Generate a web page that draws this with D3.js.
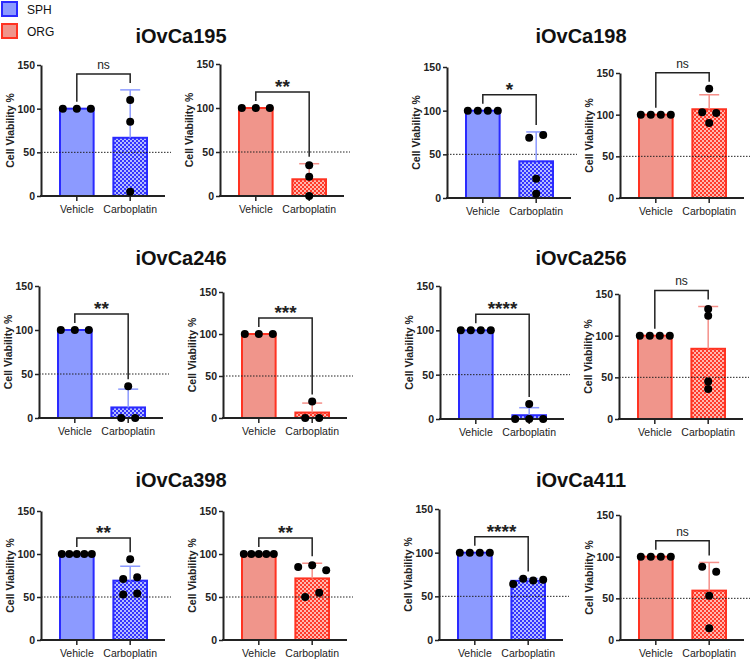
<!DOCTYPE html>
<html>
<head>
<meta charset="utf-8">
<script src="https://cdn.jsdelivr.net/npm/d3@7"></script>
<style>
  body { margin: 0; background: #fff; }
  svg { display: block; font-family: "Liberation Sans", Arial, sans-serif; }
</style>
</head>
<body>
<div id="chart"></div>
<script>
// values (cell viability %, one dot per replicate)
const cellLines = ['iOvCa195', 'iOvCa198', 'iOvCa246', 'iOvCa256', 'iOvCa398', 'iOvCa411'];
const groups = ['Vehicle', 'Carboplatin'];
const yTicks = [0, 50, 100, 150];

const sphVehicle = [[100, 100, 100], [100, 100, 100, 100], [100, 100, 100], [100, 100, 100, 100], [100, 100, 100, 100, 100], [100, 100, 100, 100]];
const sphCarbo = [[110, 85, 5], [69, 72, 22, 5], [36, 0, 0], [17, 0, 0, 0], [94, 71, 73, 53, 54], [64, 70, 68, 69]];
const orgVehicle = [[100, 100, 100], [100, 100, 100, 100], [100, 100, 100], [100, 100, 100, 100], [100, 100, 100, 100, 100], [100, 100, 100, 100]];
const orgCarbo = [[35, 22, 0], [131, 103, 102, 90], [19.5, 0, 0], [132, 124, 45, 36], [85, 87, 81, 50, 55], [53, 88, 82, 14]];
const sphSig = ['ns', '*', '**', '****', '**', '****'];
const orgSig = ['**', 'ns', '***', 'ns', '**', 'ns'];

const width = 750;
const height = 664;

// layout: y-axis x position, top (150) and bottom (0) of each plot, per row
const axisX = [[41, 220, 447, 620], [39, 223, 440, 619], [41, 223, 439, 620]];
const axisTop = [[65, 64, 67, 73], [286, 292, 286, 294], [511, 511, 509, 515]];
const axisBottom = [[196, 196, 198, 198], [418, 418, 419, 419], [640, 640, 640, 640]];

const colors = {
  sph: { fill: '#8c9aff', stroke: '#2a2aff', err: '#8c9aff', dark: '#3434ff', light: '#b4bcff' },
  org: { fill: '#f0958b', stroke: '#ff3322', err: '#f5908a', dark: '#ff3a2a', light: '#ffb8b0' }
};

const svg = d3.select('#chart').append('svg')
  .attr('width', width)
  .attr('height', height);

const defs = svg.append('defs');
function checker(id, dark, light) {
  const p = defs.append('pattern').attr('id', id)
    .attr('patternUnits', 'userSpaceOnUse').attr('width', 4).attr('height', 4);
  p.append('rect').attr('width', 4).attr('height', 4).attr('fill', light);
  p.append('rect').attr('width', 2).attr('height', 2).attr('fill', dark);
  p.append('rect').attr('x', 2).attr('y', 2).attr('width', 2).attr('height', 2).attr('fill', dark);
}
checker('check-sph', colors.sph.dark, colors.sph.light);
checker('check-org', colors.org.dark, colors.org.light);

// legend
const legend = svg.append('g');
[['SPH', colors.sph], ['ORG', colors.org]].forEach(([name, c], i) => {
  legend.append('rect').attr('x', 2).attr('y', 2 + i * 22).attr('width', 15).attr('height', 14)
    .attr('fill', c.fill).attr('stroke', c.stroke).attr('stroke-width', 2);
  legend.append('text').attr('x', 27).attr('y', 14 + i * 22).text(name)
    .style('font-size', '12px').attr('fill', '#111');
});

// spread points of a group sideways when they sit on top of each other
function spread(values, y) {
  const order = values.map((v, i) => i).sort((a, b) => values[a] - values[b]);
  const clusters = [];
  order.forEach(i => {
    const last = clusters[clusters.length - 1];
    if (last && Math.abs(y(values[last[last.length - 1]]) - y(values[i])) < 6) last.push(i);
    else clusters.push([i]);
  });
  const offs = new Array(values.length).fill(0);
  clusters.forEach(c => {
    c.sort((a, b) => a - b);
    const n = c.length;
    if (n < 2) return;
    const step = Math.min(14, 30 / (n - 1));
    c.forEach((idx, k) => { offs[idx] = (k - (n - 1) / 2) * step; });
  });
  return offs;
}

function drawPanel(x0, yT, yB, vehicle, carbo, sig, kind) {
  const c = colors[kind];
  const g = svg.append('g');
  const y = d3.scaleLinear().domain([0, 150]).range([yB, yT]);
  const x = d3.scaleBand().domain(groups).range([x0 + 19, x0 + 106]).paddingInner(0.37).paddingOuter(0);
  const sets = [vehicle, carbo];
  const stats = sets.map(v => ({ mean: d3.mean(v), sd: d3.deviation(v) || 0 }));

  // bars
  g.selectAll('rect.bar').data(groups).join('rect')
    .attr('class', 'bar')
    .attr('x', d => x(d))
    .attr('width', x.bandwidth())
    .attr('y', (d, i) => y(stats[i].mean))
    .attr('height', (d, i) => y(0) - y(stats[i].mean))
    .attr('fill', (d, i) => i === 0 ? c.fill : `url(#check-${kind})`)
    .attr('stroke', c.stroke)
    .attr('stroke-width', 2);

  // 50 % reference line
  g.append('line')
    .attr('x1', x0).attr('x2', x0 + 130)
    .attr('y1', y(50)).attr('y2', y(50))
    .attr('stroke', '#222').attr('stroke-width', 1)
    .attr('stroke-dasharray', '1.5,1.5');

  // error bars (mean + SD)
  groups.forEach((grp, i) => {
    if (stats[i].sd <= 0) return;
    const cx = x(grp) + x.bandwidth() / 2;
    const top = y(stats[i].mean + stats[i].sd);
    g.append('line').attr('x1', cx).attr('x2', cx)
      .attr('y1', y(stats[i].mean)).attr('y2', top)
      .attr('stroke', c.err).attr('stroke-width', 1.5);
    g.append('line').attr('x1', cx - 10).attr('x2', cx + 10)
      .attr('y1', top).attr('y2', top)
      .attr('stroke', c.err).attr('stroke-width', 1.5);
  });

  // axes
  const ya = g.append('g')
    .attr('transform', `translate(${x0},0)`)
    .call(d3.axisLeft(y).tickValues(yTicks).tickSize(4).tickSizeOuter(0).tickPadding(2));
  ya.select('.domain').attr('stroke', '#222').attr('stroke-width', 2);
  ya.selectAll('.tick line').attr('stroke', '#222').attr('stroke-width', 1.5);
  ya.selectAll('.tick text').attr('fill', '#222').style('font-size', '10.5px').style('font-weight', 'bold')
    .style('font-family', '"Liberation Sans", Arial, sans-serif');

  g.append('line').attr('x1', x0 - 1).attr('x2', x0 + 124)
    .attr('y1', yB).attr('y2', yB)
    .attr('stroke', '#222').attr('stroke-width', 2);
  const xa = g.append('g')
    .attr('transform', `translate(0,${yB})`)
    .call(d3.axisBottom(x).tickSize(5).tickSizeOuter(0).tickPadding(5));
  xa.select('.domain').remove();
  xa.selectAll('.tick line').attr('stroke', '#222').attr('stroke-width', 1.5);
  xa.selectAll('.tick text').attr('fill', '#222').style('font-size', '10.5px')
    .style('font-family', '"Liberation Sans", Arial, sans-serif');

  g.append('text')
    .attr('transform', `translate(${x0 - 31},${(yT + yB) / 2}) rotate(-90)`)
    .attr('text-anchor', 'middle').attr('dy', '0.35em')
    .style('font-size', '10.5px').style('font-weight', 'bold').attr('fill', '#222')
    .text('Cell Viability %');

  // replicate dots
  sets.forEach((vals, i) => {
    const cx = x(groups[i]) + x.bandwidth() / 2;
    const offs = spread(vals, y);
    g.selectAll(null).data(vals).join('circle')
      .attr('cx', (d, k) => cx + offs[k])
      .attr('cy', d => y(d))
      .attr('r', 4)
      .attr('fill', '#000');
  });

  // significance bracket
  const tops = sets.map((v, i) => Math.max(stats[i].mean + stats[i].sd, d3.max(v)));
  const yb = y(d3.max(tops)) - 16;
  const c0 = x(groups[0]) + x.bandwidth() / 2;
  const c1 = x(groups[1]) + x.bandwidth() / 2;
  g.append('path')
    .attr('d', `M${c0},${y(tops[0]) - 7}V${yb}H${c1}V${y(tops[1]) - 7}`)
    .attr('fill', 'none').attr('stroke', '#222').attr('stroke-width', 1.5);
  const st = g.append('text')
    .attr('x', (c0 + c1) / 2)
    .attr('text-anchor', 'middle').attr('fill', '#222')
    .text(sig);
  if (sig === 'ns') st.attr('y', yb - 5).style('font-size', '12px');
  else st.attr('y', yb + 1).style('font-size', '19px').style('font-weight', 'bold');
}

cellLines.forEach((name, i) => {
  const row = Math.floor(i / 2);
  const col = (i % 2) * 2;
  drawPanel(axisX[row][col], axisTop[row][col], axisBottom[row][col], sphVehicle[i], sphCarbo[i], sphSig[i], 'sph');
  drawPanel(axisX[row][col + 1], axisTop[row][col + 1], axisBottom[row][col + 1], orgVehicle[i], orgCarbo[i], orgSig[i], 'org');
  svg.append('text')
    .attr('x', i % 2 === 0 ? 181 : 581)
    .attr('y', axisBottom[row][0] - 153)
    .attr('text-anchor', 'middle')
    .style('font-size', '20px').style('font-weight', 'bold').attr('fill', '#111')
    .text(name);
});
</script>
</body>
</html>
